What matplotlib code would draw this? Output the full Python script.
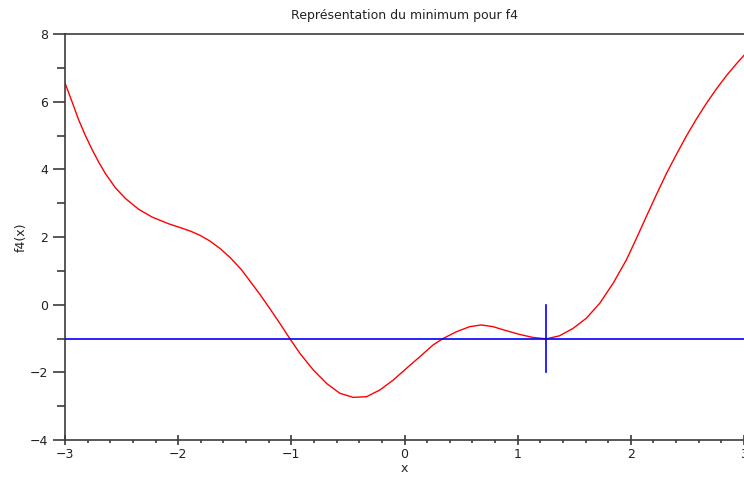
import matplotlib

matplotlib.use("Agg")
import matplotlib.pyplot as plt  # noqa: E402
from matplotlib.ticker import FixedLocator, MultipleLocator  # noqa: E402

# values
X_VALS = [-3.0, -2.938, -2.879, -2.82, -2.76, -2.70, -2.644, -2.556, -2.467,
          -2.349, -2.231, -2.084, -1.984, -1.896, -1.807, -1.719, -1.63, -1.54,
          -1.44, -1.366, -1.277, -1.189, -1.1, -1.018, -0.924, -0.806, -0.688,
          -0.571, -0.453, -0.335, -0.217, -0.1, 0.018, 0.135, 0.253, 0.341,
          0.459, 0.576, 0.68, 0.782, 0.9, 1.018, 1.136, 1.254, 1.37, 1.49,
          1.607, 1.725, 1.843, 1.96, 2.044, 2.139, 2.227, 2.315, 2.404, 2.492,
          2.58, 2.668, 2.757, 2.845, 2.933, 3.0]
F4_VALS = [6.55, 6.0, 5.46, 5.0, 4.58, 4.20, 3.88, 3.46, 3.14,
           2.82, 2.59, 2.39, 2.28, 2.18, 2.05, 1.88, 1.66, 1.39,
           1.03, 0.70, 0.30, -0.12, -0.56, -0.98, -1.44, -1.93, -2.33,
           -2.62, -2.74, -2.72, -2.52, -2.23, -1.88, -1.54, -1.19, -1.0,
           -0.80, -0.65, -0.60, -0.65, -0.77, -0.88, -0.97, -1.01, -0.92, -0.70,
           -0.40, 0.04, 0.63, 1.32, 1.92, 2.62, 3.26, 3.88, 4.45, 4.99,
           5.49, 5.95, 6.38, 6.77, 7.12, 7.37]

X_MIN = 1.25
F_MIN = -1.0
MARK_Y = [-2.0, 0.0]

X_TICKS = [-3, -2, -1, 0, 1, 2, 3]
Y_TICKS = [-4, -2, 0, 2, 4, 6, 8]

AXIS = "#3c3c3c"

fig = plt.figure(figsize=(7.44, 4.79), dpi=100)
ax = fig.add_axes([65 / 744, 1 - 440 / 479, 1 - 65 / 744, (440 - 34) / 479])

ax.plot(X_VALS, F4_VALS, color="#ff0000", linewidth=1.0,
        solid_joinstyle="round", zorder=2)
ax.axhline(F_MIN, color="#0000ff", linewidth=1.2, zorder=3)
ax.plot([X_MIN, X_MIN], MARK_Y, color="#0000ff", linewidth=1.2, zorder=3)

ax.set_xlim(-3, 3)
ax.set_ylim(-4, 8)

ax.xaxis.set_major_locator(FixedLocator(X_TICKS))
ax.yaxis.set_major_locator(FixedLocator(Y_TICKS))
ax.xaxis.set_minor_locator(MultipleLocator(0.2))
ax.yaxis.set_minor_locator(MultipleLocator(1))

for side in ("left", "top", "bottom"):
    ax.spines[side].set_color(AXIS)
    ax.spines[side].set_linewidth(1.2)
ax.spines["right"].set_visible(False)

ax.tick_params(axis="y", which="major", direction="out", length=9, width=1.2,
               color=AXIS, labelcolor="#222222", labelsize=9, pad=3)
ax.tick_params(axis="y", which="minor", direction="out", length=6, width=1.2,
               color=AXIS)
ax.tick_params(axis="x", which="major", direction="inout", length=7, width=1.2,
               color=AXIS, labelcolor="#222222", labelsize=9, pad=2)
ax.tick_params(axis="x", which="minor", direction="out", length=2, width=1.2,
               color=AXIS)
ax.tick_params(top=False, right=False, which="both")

ax.set_title("Représentation du minimum pour f4", fontsize=9, color="#222222", pad=11)
ax.set_xlabel("x", fontsize=9, color="#222222", labelpad=1)
ax.set_ylabel("f4(x)", fontsize=9, color="#222222", labelpad=1.5)

fig.savefig("out.png", dpi=100, facecolor="white")
